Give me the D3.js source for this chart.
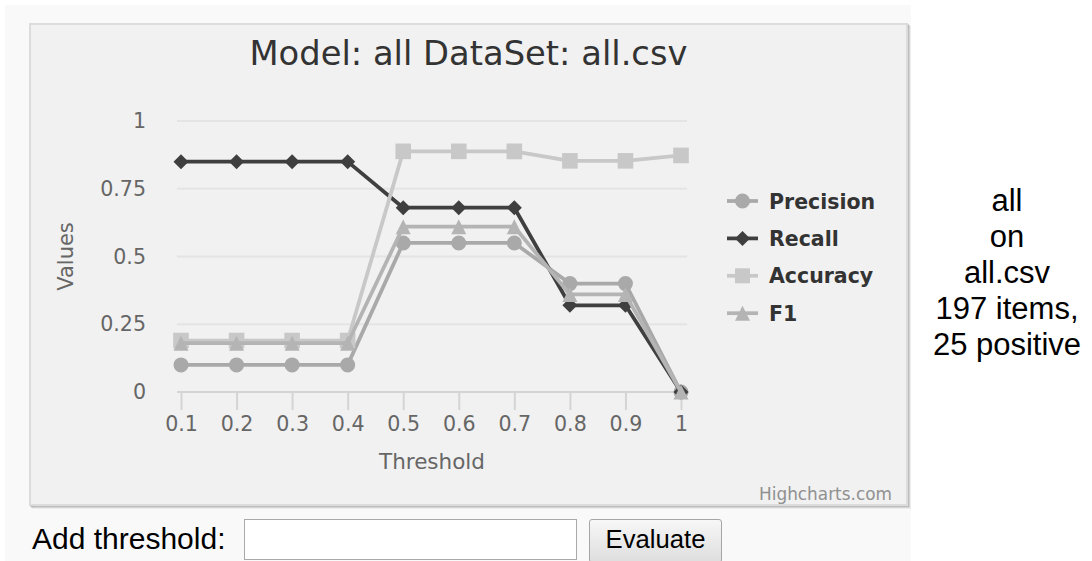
<!DOCTYPE html>
<html>
<head>
<meta charset="utf-8">
<script src="https://cdn.jsdelivr.net/npm/d3@7"></script>
<style>
    body { margin: 0; background: #fff; width: 1092px; height: 561px; overflow: hidden; position: relative; }
    #cell { position: absolute; left: 5px; top: 5px; width: 906px; height: 560px; background: #f9f9f9; }
    #chart { position: absolute; left: 0; top: 0; }
    #label { position: absolute; left: 32px; top: 519px; font: 30px "Liberation Sans", Arial, sans-serif; color: #000; line-height: 40px; }
    #threshold { position: absolute; left: 244px; top: 519px; width: 333px; height: 41px; box-sizing: border-box;
        border: 1px solid #a9a9a9; background: #fff; margin: 0; padding: 0; }
    #evaluate { position: absolute; left: 589px; top: 519px; width: 133px; height: 44px; box-sizing: border-box;
        border: 1px solid #a6a6a6; border-radius: 3px; background: linear-gradient(#f7f7f7, #dedede);
        font: 25.7px "Liberation Sans", Arial, sans-serif; color: #000; margin: 0; padding: 0 0 4px 0; }
</style>
</head>
<body>
<div id="cell"></div>
<svg id="chart" width="1092" height="515"></svg>
<div id="label">Add threshold:</div>
<input id="threshold" type="text">
<button id="evaluate">Evaluate</button>
<script>
// Chart data
var thresholds = [0.1, 0.2, 0.3, 0.4, 0.5, 0.6, 0.7, 0.8, 0.9, 1];
var precision = [0.1, 0.1, 0.1, 0.1, 0.55, 0.55, 0.55, 0.4, 0.4, 0];
var recall = [0.85, 0.85, 0.85, 0.85, 0.68, 0.68, 0.68, 0.32, 0.32, 0];
var accuracy = [0.19, 0.19, 0.19, 0.19, 0.888, 0.888, 0.888, 0.853, 0.853, 0.873];
var f1 = [0.18, 0.18, 0.18, 0.18, 0.61, 0.61, 0.61, 0.36, 0.36, 0];
var yTicks = [0, 0.25, 0.5, 0.75, 1];
var seriesNames = ['Precision', 'Recall', 'Accuracy', 'F1'];
var infoLines = ['all', 'on', 'all.csv', '197 items,', '25 positive'];

var series = [
    { name: seriesNames[0], values: precision, color: '#a9a9a9', symbol: 'circle' },
    { name: seriesNames[1], values: recall, color: '#3f3f3f', symbol: 'diamond' },
    { name: seriesNames[2], values: accuracy, color: '#c8c8c8', symbol: 'square' },
    { name: seriesNames[3], values: f1, color: '#b4b4b4', symbol: 'triangle' }
];

var font = '"DejaVu Sans", Verdana, sans-serif';
var svg = d3.select('#chart');

// Chart box with shadow
var box = { x: 30, y: 24, w: 877, h: 481 };
[3, 2, 1].forEach(function(o) {
    svg.append('rect')
        .attr('x', box.x + o).attr('y', box.y + o)
        .attr('width', box.w).attr('height', box.h)
        .style('fill', 'none')
        .style('stroke', 'rgba(0,0,0,' + (0.05 * (4 - o)) + ')')
        .style('stroke-width', 2);
});
svg.append('rect')
    .attr('x', box.x).attr('y', box.y)
    .attr('width', box.w).attr('height', box.h)
    .style('fill', '#f1f1f1')
    .style('stroke', '#dcdcdc')
    .style('stroke-width', 2);

// Scales
var plot = { left: 177, right: 687, top: 121, bottom: 392 };
var x = d3.scaleLinear().domain([0.1, 1]).range([181, 681]);
var y = d3.scaleLinear().domain([0, 1]).range([plot.bottom, plot.top]);

// Title
svg.append('text')
    .attr('x', (box.x + box.x + box.w) / 2)
    .attr('y', 65)
    .attr('text-anchor', 'middle')
    .text('Model: all DataSet: all.csv')
    .style('font-family', font)
    .style('font-size', '33.75px')
    .style('fill', '#333');

// Grid lines
svg.append('g').selectAll('line')
    .data(yTicks.filter(function(d) { return d > 0; }))
    .enter().append('line')
    .attr('x1', plot.left).attr('x2', plot.right)
    .attr('y1', function(d) { return y(d); })
    .attr('y2', function(d) { return y(d); })
    .style('stroke', '#e4e4e4')
    .style('stroke-width', 2);

// Y axis labels
var yAxis = d3.axisLeft(y).tickValues(yTicks).tickSize(0).tickPadding(0)
    .tickFormat(function(d) { return d3.format('~g')(d); });
var yg = svg.append('g').attr('transform', 'translate(146,0)').call(yAxis);
yg.select('.domain').remove();
yg.selectAll('text')
    .style('font-family', font)
    .style('font-size', '20.6px')
    .style('fill', '#666');

// X axis
var xAxis = d3.axisBottom(x).tickValues(thresholds).tickSize(18).tickPadding(6)
    .tickFormat(function(d) { return d3.format('~g')(d); });
var xg = svg.append('g').attr('transform', 'translate(0,' + plot.bottom + ')').call(xAxis);
xg.select('.domain').remove();
xg.append('line')
    .attr('x1', plot.left).attr('x2', plot.right)
    .style('stroke', '#d4d4d4').style('stroke-width', 2);
xg.selectAll('.tick line').style('stroke', '#d4d4d4').style('stroke-width', 2);
xg.selectAll('text')
    .style('font-family', font)
    .style('font-size', '20.6px')
    .style('fill', '#666');

// Axis titles
svg.append('text')
    .attr('transform', 'translate(73,' + ((plot.top + plot.bottom) / 2) + ') rotate(-90)')
    .attr('text-anchor', 'middle')
    .text('Values')
    .style('font-family', font)
    .style('font-size', '21px')
    .style('fill', '#666');
svg.append('text')
    .attr('x', (plot.left + plot.right) / 2)
    .attr('y', 469)
    .attr('text-anchor', 'middle')
    .text('Threshold')
    .style('font-family', font)
    .style('font-size', '21.5px')
    .style('fill', '#666');

// Marker path builder
function markerPath(symbol, cx, cy, r) {
    if (symbol === 'circle') {
        return 'M' + (cx - r) + ',' + cy + 'a' + r + ',' + r + ' 0 1,0 ' + (2 * r) + ',0a' + r + ',' + r + ' 0 1,0 ' + (-2 * r) + ',0Z';
    } else if (symbol === 'diamond') {
        return 'M' + cx + ',' + (cy - r) + 'L' + (cx + r) + ',' + cy + 'L' + cx + ',' + (cy + r) + 'L' + (cx - r) + ',' + cy + 'Z';
    } else if (symbol === 'square') {
        return 'M' + (cx - r) + ',' + (cy - r) + 'h' + (2 * r) + 'v' + (2 * r) + 'h' + (-2 * r) + 'Z';
    }
    return 'M' + cx + ',' + (cy - r) + 'L' + (cx + r) + ',' + (cy + r) + 'L' + (cx - r) + ',' + (cy + r) + 'Z';
}

// Series lines and markers
var line = d3.line()
    .x(function(d, i) { return x(thresholds[i]); })
    .y(function(d) { return y(d); });

series.forEach(function(s) {
    var g = svg.append('g');
    g.append('path')
        .attr('d', line(s.values))
        .style('fill', 'none')
        .style('stroke', s.color)
        .style('stroke-width', 3.75)
        .style('stroke-linejoin', 'round')
        .style('stroke-linecap', 'round');
    g.selectAll('path.marker')
        .data(s.values)
        .enter().append('path')
        .attr('class', 'marker')
        .attr('d', function(d, i) { return markerPath(s.symbol, x(thresholds[i]), y(d), s.symbol === 'square' ? 7.8 : 7.5); })
        .style('fill', s.color);
});

// Legend
var legend = svg.append('g');
series.forEach(function(s, i) {
    var cy = 201 + i * 37.4;
    legend.append('line')
        .attr('x1', 727).attr('x2', 758)
        .attr('y1', cy).attr('y2', cy)
        .style('stroke', s.color)
        .style('stroke-width', 3.75);
    legend.append('path')
        .attr('d', markerPath(s.symbol, 742.5, cy, 7.5))
        .style('fill', s.color);
    legend.append('text')
        .attr('x', 769)
        .attr('y', cy + 7.5)
        .text(s.name)
        .style('font-family', font)
        .style('font-weight', 'bold')
        .style('font-size', '20.5px')
        .style('fill', '#333');
});

// Credits
svg.append('text')
    .attr('x', 892)
    .attr('y', 500)
    .attr('text-anchor', 'end')
    .text('Highcharts.com')
    .style('font-family', font)
    .style('font-size', '16.9px')
    .style('fill', '#909090');

// Info text on the right
svg.append('g').selectAll('text')
    .data(infoLines)
    .enter().append('text')
    .attr('x', 1007)
    .attr('y', function(d, i) { return 211 + i * 36; })
    .attr('text-anchor', 'middle')
    .text(function(d) { return d; })
    .style('font-family', '"Liberation Sans", Arial, sans-serif')
    .style('font-size', '31px')
    .style('fill', '#000');
</script>
</body>
</html>
